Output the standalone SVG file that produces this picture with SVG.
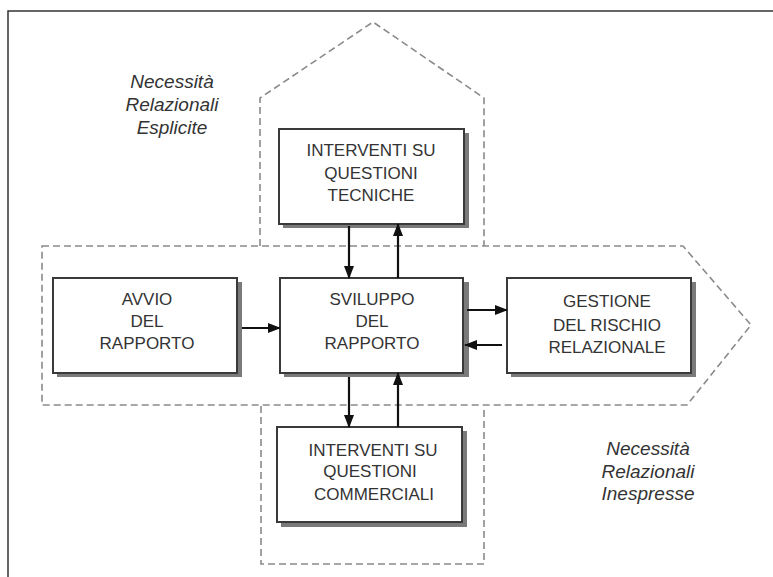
<svg xmlns="http://www.w3.org/2000/svg" width="773" height="577" viewBox="0 0 773 577">
  <defs>
    <style>
      .frame{fill:none;stroke:#333;stroke-width:1.5}
      .dash{fill:none;stroke:#8a8a8a;stroke-width:1.6;stroke-dasharray:7 4}
      .box{fill:#fff;stroke:#3a3a3a;stroke-width:2}
      .shadow{fill:#7a7a7a}
      .lbl{font-family:"Liberation Sans",Arial,sans-serif;font-size:17px;fill:#333;text-anchor:middle}
      .it{font-family:"Liberation Sans",Arial,sans-serif;font-size:19px;font-style:italic;fill:#333;text-anchor:middle}
      .arr{fill:none;stroke:#111;stroke-width:2.2;marker-end:url(#ah)}
    </style>
    <marker id="ah" markerUnits="userSpaceOnUse" markerWidth="13" markerHeight="10" refX="12" refY="5" orient="auto">
      <path d="M0,0 L13,5 L0,10 Z" fill="#111"/>
    </marker>
  </defs>
  <rect width="773" height="577" fill="#fff"/>
  <path class="frame" d="M8,577 L8,11 L773,11"/>

  <g id="regions">
    <path class="dash" d="M260,246 L260,98 L373,22 L484,98 L484,246"/>
    <path class="dash" d="M42,246 L683,246 L751,325 L687,405 L42,405 Z"/>
    <path class="dash" d="M261,406 L261,564 L484,564 L484,406"/>
  </g>

  <g id="labels">
    <text class="it" x="172" y="88">Necessità</text>
    <text class="it" x="172" y="111">Relazionali</text>
    <text class="it" x="172" y="134">Esplicite</text>
    <text class="it" x="648" y="455">Necessità</text>
    <text class="it" x="648" y="478">Relazionali</text>
    <text class="it" x="648" y="500">Inespresse</text>
  </g>

  <g id="tecniche">
    <rect class="shadow" x="283" y="133" width="186" height="95"/>
    <rect class="box" x="279" y="129" width="185" height="95"/>
    <text class="lbl" x="371" y="156">INTERVENTI SU</text>
    <text class="lbl" x="371" y="179">QUESTIONI</text>
    <text class="lbl" x="371" y="201">TECNICHE</text>
  </g>

  <g id="avvio">
    <rect class="shadow" x="57" y="282" width="185" height="95"/>
    <rect class="box" x="53" y="278" width="184" height="95"/>
    <text class="lbl" x="147" y="305">AVVIO</text>
    <text class="lbl" x="147" y="327">DEL</text>
    <text class="lbl" x="147" y="349">RAPPORTO</text>
  </g>

  <g id="sviluppo">
    <rect class="shadow" x="284" y="282" width="185" height="95"/>
    <rect class="box" x="280" y="278" width="183" height="95"/>
    <text class="lbl" x="372" y="305">SVILUPPO</text>
    <text class="lbl" x="372" y="327">DEL</text>
    <text class="lbl" x="372" y="349">RAPPORTO</text>
  </g>

  <g id="gestione">
    <rect class="shadow" x="511" y="282" width="185" height="95"/>
    <rect class="box" x="507" y="278" width="184" height="95"/>
    <text class="lbl" x="607" y="307">GESTIONE</text>
    <text class="lbl" x="607" y="331">DEL RISCHIO</text>
    <text class="lbl" x="607" y="353">RELAZIONALE</text>
  </g>

  <g id="commerciali">
    <rect class="shadow" x="281" y="431" width="186" height="96"/>
    <rect class="box" x="277" y="427" width="185" height="95"/>
    <text class="lbl" x="373" y="456">INTERVENTI SU</text>
    <text class="lbl" x="370" y="477">QUESTIONI</text>
    <text class="lbl" x="374" y="500">COMMERCIALI</text>
  </g>

  <g id="connectors">
    <line class="arr" x1="349" y1="226" x2="349" y2="278"/>
    <line class="arr" x1="398" y1="278" x2="398" y2="224"/>
    <line class="arr" x1="242" y1="328" x2="280" y2="328"/>
    <line class="arr" x1="467" y1="310" x2="507" y2="310"/>
    <line class="arr" x1="502" y1="345" x2="465" y2="345"/>
    <line class="arr" x1="349" y1="377" x2="349" y2="427"/>
    <line class="arr" x1="398" y1="427" x2="398" y2="373"/>
  </g>
</svg>
